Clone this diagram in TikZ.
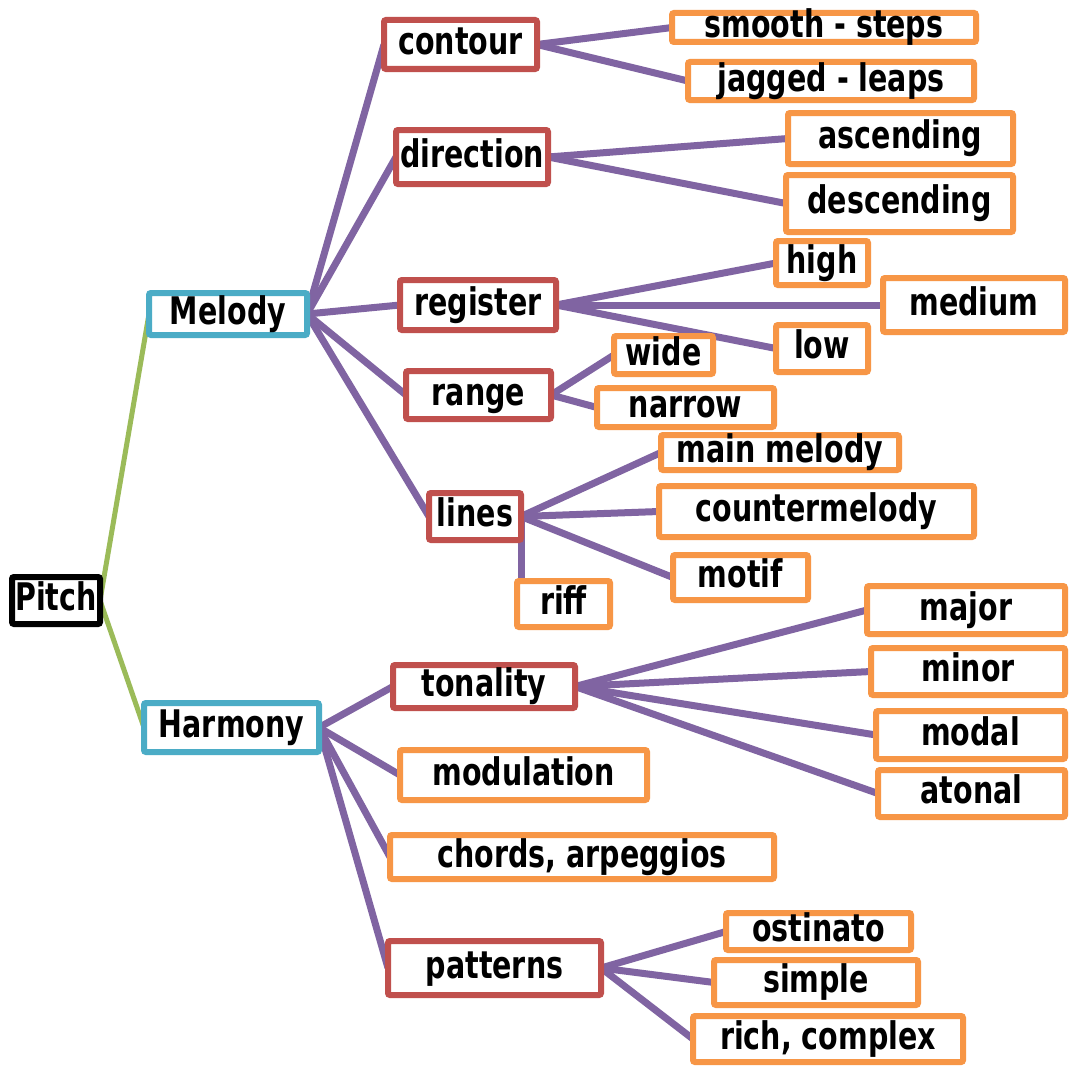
\documentclass[tikz,border=0pt]{standalone}
\usepackage{fontspec}
\setmainfont{DejaVu Sans}[FakeStretch=0.75]
\pgfdeclarelayer{back}
\pgfdeclarelayer{bg}
\pgfsetlayers{back,bg,main}
\definecolor{cred}{HTML}{C0504D}
\definecolor{corange}{HTML}{F79646}
\definecolor{cblue}{HTML}{4BACC6}
\definecolor{cpurple}{HTML}{8064A2}
\definecolor{cgreen}{HTML}{9BBB59}
\tikzset{
  basebox/.style={draw, line width=6pt, fill=white, inner sep=0pt, outer sep=0pt,
    rounded corners=2pt, font=\fontsize{38}{40}\selectfont\bfseries,
    text height=22pt, text depth=1.2pt},
  kbox/.style={basebox, draw=black},
  bbox/.style={basebox, draw=cblue},
  rbox/.style={basebox, draw=cred},
  obox/.style={basebox, draw=corange},
  pline/.style={draw=cpurple, line width=7pt},
  gline/.style={draw=cgreen, line width=5pt},
}
\newcommand{\bx}[8]{\node[#1, minimum width=#5pt-6pt, minimum height=#6pt-6pt] (#2) at (#3,#4) {#7};}
\begin{document}
\begin{tikzpicture}[x=1pt,y=-1pt]
\useasboundingbox (0,0) rectangle (1070,1065);
\begin{pgfonlayer}{back}
\fill[white] (0,0) rectangle (1070,1065);
\end{pgfonlayer}
\bx{kbox}{pitch}{56}{600.5}{94}{53}{Pitch}{}
\bx{bbox}{melody}{228}{314}{164}{48}{Melody}{}
\bx{bbox}{harmony}{231.5}{727.5}{181}{55}{Harmony}{}
\bx{rbox}{contour}{460.5}{44.5}{159}{55}{contour}{}
\bx{obox}{smooth}{824}{27.5}{310}{35}{smooth - steps}{}
\bx{obox}{jagged}{831}{81}{292}{44}{jagged - leaps}{}
\bx{rbox}{direction}{472}{157}{158}{60}{direction}{}
\bx{obox}{ascending}{900.5}{138.5}{231}{57}{ascending}{}
\bx{obox}{descending}{899.5}{203.5}{233}{63}{descending}{}
\bx{rbox}{register}{478}{305}{162}{56}{register}{}
\bx{obox}{high}{822}{263}{98}{50}{high}{}
\bx{obox}{medium}{974}{305}{188}{60}{medium}{}
\bx{obox}{low}{822}{348.5}{98}{53}{low}{}
\bx{rbox}{range}{478.5}{395}{151}{54}{range}{}
\bx{obox}{wide}{663.5}{355}{105}{44}{wide}{}
\bx{obox}{narrow}{685.5}{407.5}{183}{45}{narrow}{}
\bx{rbox}{lines}{475}{516.5}{98}{53}{lines}{}
\bx{obox}{mainmel}{780}{452.5}{244}{41}{main melody}{}
\bx{obox}{counter}{816.5}{511.5}{321}{57}{countermelody}{}
\bx{obox}{motif}{740.5}{577.5}{141}{51}{motif}{}
\bx{obox}{riff}{563.5}{604}{99}{52}{riff}{}
\bx{rbox}{tonality}{484}{686.5}{188}{49}{tonality}{}
\bx{obox}{major}{966}{610}{204}{54}{major}{}
\bx{obox}{minor}{968}{671.5}{200}{53}{minor}{}
\bx{obox}{modal}{970.5}{735}{195}{54}{modal}{}
\bx{obox}{atonal}{971.5}{793.5}{193}{53}{atonal}{}
\bx{obox}{modulation}{523.5}{775}{253}{56}{modulation}{}
\bx{obox}{chords}{582}{857}{390}{50}{chords, arpeggios}{}
\bx{rbox}{patterns}{494.5}{968}{219}{60}{patterns}{}
\bx{obox}{ostinato}{818.5}{931.5}{191}{43}{ostinato}{}
\bx{obox}{simple}{816}{982.5}{210}{51}{simple}{}
\bx{obox}{rich}{828}{1039}{276}{52}{rich, complex}{}
\begin{pgfonlayer}{bg}
\draw[gline] (pitch.east) -- (melody.west);
\draw[gline] (pitch.east) -- (harmony.west);
\foreach \c in {contour,direction,register,range,lines}
  \draw[pline] (melody.east) -- (\c.west);
\foreach \c in {tonality,modulation,chords,patterns}
  \draw[pline] (harmony.east) -- (\c.west);
\foreach \c in {smooth,jagged} \draw[pline] (contour.east) -- (\c.west);
\foreach \c in {ascending,descending} \draw[pline] (direction.east) -- (\c.west);
\foreach \c in {high,medium,low} \draw[pline] (register.east) -- (\c.west);
\foreach \c in {wide,narrow} \draw[pline] (range.east) -- (\c.west);
\foreach \c in {mainmel,counter,motif} \draw[pline] (lines.east) -- (\c.west);
\draw[pline] (lines.east) -- (lines.east |- riff.north);
\foreach \c in {major,minor,modal,atonal} \draw[pline] (tonality.east) -- (\c.west);
\foreach \c in {ostinato,simple,rich} \draw[pline] (patterns.east) -- (\c.west);
\end{pgfonlayer}
\end{tikzpicture}
\end{document}
